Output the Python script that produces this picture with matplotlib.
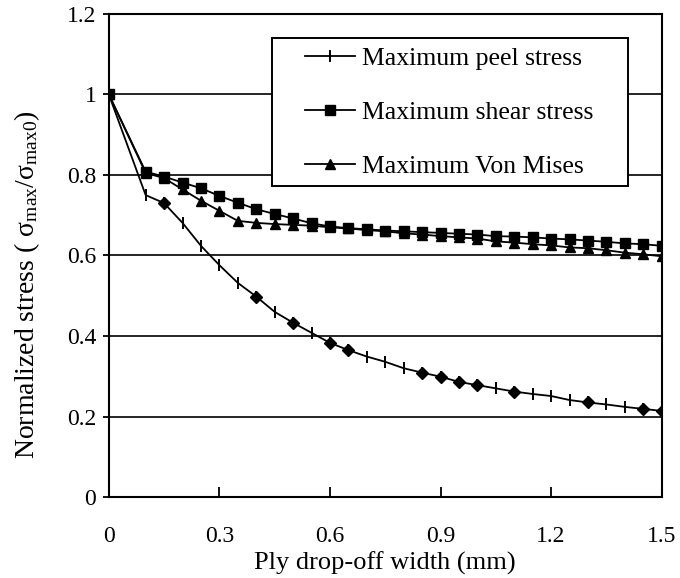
import matplotlib
matplotlib.use('Agg')
import matplotlib.pyplot as plt
from matplotlib.patches import Rectangle

plt.rcParams['font.family'] = ['Liberation Serif', 'DejaVu Serif']
plt.rcParams['mathtext.fontset'] = 'custom'
plt.rcParams['mathtext.rm'] = 'Liberation Serif'
plt.rcParams['mathtext.it'] = 'Liberation Serif:italic'

# Ply drop-off width (mm)
width = [0, 0.1, 0.15, 0.2, 0.25, 0.3, 0.35, 0.4, 0.45, 0.5, 0.55, 0.6, 0.65, 0.7, 0.75,
         0.8, 0.85, 0.9, 0.95, 1.0, 1.05, 1.1, 1.15, 1.2, 1.25, 1.3, 1.35, 1.4, 1.45, 1.5]

peel = [1.0, 0.750, 0.730, 0.681, 0.624, 0.576, 0.532, 0.498, 0.460, 0.433, 0.408, 0.383,
        0.365, 0.349, 0.336, 0.320, 0.309, 0.299, 0.286, 0.278, 0.270, 0.262, 0.256, 0.251,
        0.241, 0.235, 0.230, 0.224, 0.219, 0.214]

shear = [1.0, 0.808, 0.796, 0.781, 0.767, 0.748, 0.731, 0.715, 0.703, 0.692, 0.680, 0.672,
         0.668, 0.665, 0.662, 0.660, 0.658, 0.656, 0.654, 0.652, 0.648, 0.647, 0.645, 0.642,
         0.640, 0.637, 0.634, 0.630, 0.628, 0.624]

von_mises = [1.0, 0.805, 0.792, 0.764, 0.736, 0.711, 0.686, 0.681, 0.678, 0.676, 0.674, 0.670,
             0.667, 0.663, 0.660, 0.655, 0.652, 0.648, 0.645, 0.642, 0.635, 0.632, 0.628, 0.625,
             0.620, 0.618, 0.613, 0.607, 0.603, 0.598]

# points of the peel curve that carry a diamond marker
diamond_x = [0.15, 0.4, 0.5, 0.6, 0.65, 0.85, 0.9, 0.95, 1.0, 1.1, 1.3, 1.45, 1.5]
diamond_y = [peel[width.index(x)] for x in diamond_x]

fig = plt.figure(figsize=(6.8, 5.78), dpi=100)
ax = fig.add_axes([0.160, 0.140, 0.813, 0.836])

ax.plot(width, peel, color='black', lw=1.3, marker='|', ms=9, mew=1.4,
        label='Maximum peel stress')
ax.plot(diamond_x, diamond_y, ls='none', color='black', marker='D', ms=6.5)
ax.plot(width, shear, color='black', lw=1.3, marker='s', ms=7,
        label='Maximum shear stress')
ax.plot(width, von_mises, color='black', lw=1.3, marker='^', ms=7,
        label='Maximum Von Mises')

ax.set_xlim(0, 1.5)
ax.set_ylim(0, 1.2)
ax.set_xticks([0, 0.3, 0.6, 0.9, 1.2, 1.5])
ax.set_xticklabels(['0', '0.3', '0.6', '0.9', '1.2', '1.5'])
ax.set_yticks([0, 0.2, 0.4, 0.6, 0.8, 1.0, 1.2])
ax.set_yticklabels(['0', '0.2', '0.4', '0.6', '0.8', '1', '1.2'])
ax.yaxis.grid(True, color='black', lw=1.2)
ax.set_axisbelow(True)

for s in ax.spines.values():
    s.set_linewidth(1.5)
ax.tick_params(axis='x', direction='in', length=7, width=1.3, labelsize=17, pad=21)
ax.tick_params(axis='y', direction='out', length=4, width=1.3, labelsize=17, pad=5)

ax.set_xlabel('Ply drop-off width (mm)', fontsize=19, va='top')
ax.xaxis.set_label_coords(0.5, -0.112)
ax.set_ylabel(r'Normalized stress ( $\mathrm{\sigma_{max}/\sigma_{max0}}$)',
              fontsize=20)
ax.yaxis.set_label_coords(-0.12, 0.44)

# legend box (white, covers the grid lines)
box = Rectangle((0.295, 0.644), 0.645, 0.306, transform=ax.transAxes,
                facecolor='white', edgecolor='black', lw=1.4, zorder=4)
ax.add_patch(box)

leg = ax.legend(loc='upper left', bbox_to_anchor=(0.354, 0.932), fontsize=18.5,
                frameon=False, handlelength=1.95, labelspacing=1.22, borderpad=0,
                handletextpad=0.3, borderaxespad=0)
leg.set_zorder(5)

fig.savefig('out.png', dpi=100)
